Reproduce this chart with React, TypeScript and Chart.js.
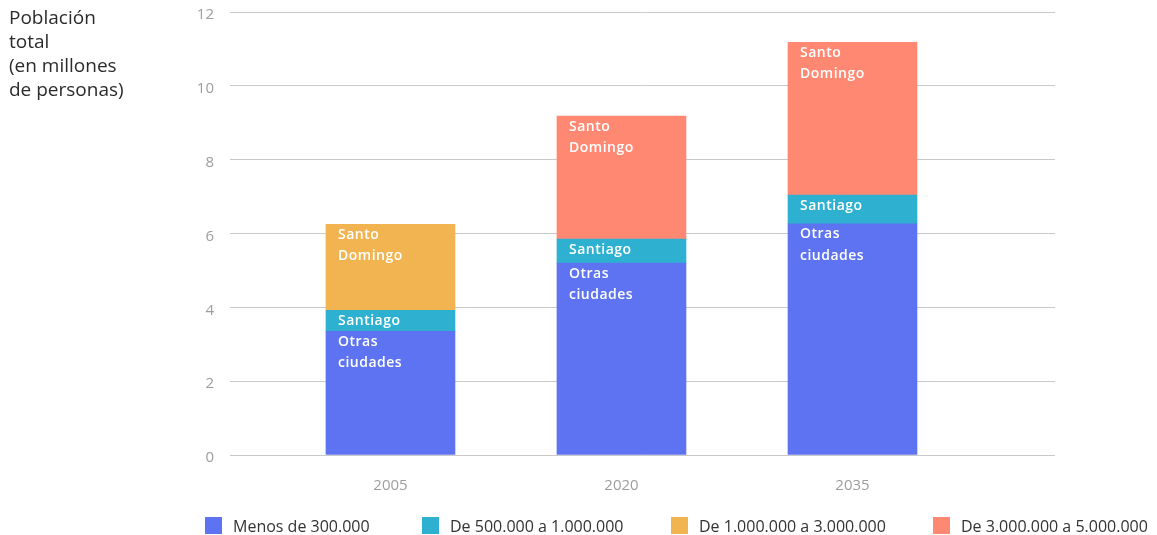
import React, { useEffect, useRef } from "react";
import { Chart, registerables } from "chart.js";

Chart.register(...registerables);

const years = [2005, 2020, 2035];
const yTicks = [0, 2, 4, 6, 8, 10, 12];
const seriesNames = [
  "Menos de 300.000",
  "De 500.000 a 1.000.000",
  "De 1.000.000 a 3.000.000",
  "De 3.000.000 a 5.000.000",
];
const colors = ["#5E73F1", "#2EB1D0", "#F2B451", "#FF8873"];
const menos300k = [3.35, 5.2, 6.26];
const de500kA1m = [0.57, 0.65, 0.78];
const de1mA3m: (number | null)[] = [2.33, null, null];
const de3mA5m: (number | null)[] = [null, 3.33, 4.14];
const segmentLabels = [
  ["Otras", "ciudades"],
  ["Santiago"],
  ["Santo", "Domingo"],
  ["Santo", "Domingo"],
];
const axisTitle = ["Población", "total", "(en millones", "de personas)"];

const FONT = "'Open Sans', Lato, 'Noto Sans', sans-serif";

const barLabelPlugin = {
  id: "barLabels",
  afterDatasetsDraw(chart: any) {
    const ctx = chart.ctx;
    ctx.save();
    ctx.fillStyle = "#ffffff";
    ctx.font = `600 14px ${FONT}`;
    ctx.textAlign = "left";
    ctx.textBaseline = "middle";
    (ctx as any).letterSpacing = "0.5px";
    chart.data.datasets.forEach((ds: any, di: number) => {
      const meta = chart.getDatasetMeta(di);
      meta.data.forEach((bar: any, j: number) => {
        const v = ds.data[j]?.y;
        if (v == null) return;
        const left = bar.x - bar.width / 2 + 12;
        const top = Math.min(bar.y, bar.base);
        const lines = segmentLabels[di];
        lines.forEach((t: string, k: number) => {
          ctx.fillText(t, left, top + 10.5 + k * 21.5);
        });
      });
    });
    ctx.restore();
  },
};

export default function App() {
  const ref = useRef<HTMLCanvasElement | null>(null);
  useEffect(() => {
    if (!ref.current) return;
    const series = [menos300k, de500kA1m, de1mA3m, de3mA5m];
    const chart = new Chart(ref.current, {
      type: "bar",
      data: {
        datasets: series.map((arr, i) => ({
          label: seriesNames[i],
          data: arr.map((v, j) => ({ x: years[j], y: v })),
          backgroundColor: colors[i],
          borderWidth: 0,
          barThickness: 129,
          stack: "s",
        })) as any,
      },
      options: {
        animation: false,
        responsive: false,
        maintainAspectRatio: false,
        layout: { padding: { left: 0, top: 12, right: 102, bottom: 0 } },
        plugins: {
          legend: { display: false },
          tooltip: { enabled: false },
        },
        scales: {
          x: {
            type: "linear",
            stacked: true,
            offset: false,
            min: 1994.58,
            max: 2048.15,
            grid: { display: false },
            border: { display: false },
            afterBuildTicks: (s: any) => {
              s.ticks = years.map((v) => ({ value: v }));
            },
            afterFit: (s: any) => {
              s.height = 80;
              s.paddingLeft = 0;
              s.paddingRight = 0;
            },
            ticks: {
              padding: 14,
              color: "#9d9d9d",
              font: { family: FONT, size: 15 },
              callback: (v: any) => String(v),
            },
          },
          y: {
            stacked: true,
            min: 0,
            max: 12,
            afterBuildTicks: (s: any) => {
              s.ticks = yTicks.map((v) => ({ value: v }));
            },
            afterFit: (s: any) => {
              s.width = 230;
              s.paddingTop = 0;
              s.paddingBottom = 0;
            },
            grid: { color: "#c9c9c9", lineWidth: 1, drawTicks: false },
            border: { display: false },
            ticks: {
              padding: 16,
              labelOffset: 3,
              color: "#9d9d9d",
              font: { family: FONT, size: 15 },
            },
          },
        },
      },
      plugins: [barLabelPlugin],
    });
    return () => chart.destroy();
  }, []);

  const legendLeft = [205, 422, 671, 933];

  return (
    <div
      style={{
        position: "absolute",
        left: 0,
        top: 0,
        width: 1157,
        height: 535,
        background: "#fff",
        fontFamily: FONT,
      }}
    >
      <canvas ref={ref} width={1157} height={535} style={{ position: "absolute", left: 0, top: 0 }} />
      <div
        style={{
          position: "absolute",
          left: 9,
          top: 5,
          fontSize: 19,
          lineHeight: "24px",
          color: "#2b2b2b",
        }}
      >
        {axisTitle.map((t, i) => (
          <div key={i}>{t}</div>
        ))}
      </div>
      {seriesNames.map((n, i) => (
        <div
          key={n}
          style={{
            position: "absolute",
            left: legendLeft[i],
            top: 517,
            height: 17,
            display: "flex",
            alignItems: "center",
            whiteSpace: "nowrap",
          }}
        >
          <span style={{ display: "inline-block", width: 17, height: 17, background: colors[i] }} />
          <span style={{ marginLeft: 11, fontSize: 16, color: "#333" }}>{n}</span>
        </div>
      ))}
    </div>
  );
}
